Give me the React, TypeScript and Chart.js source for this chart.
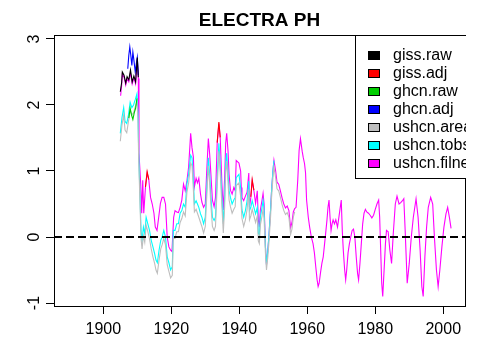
import React, { useEffect, useRef } from "react";
import { Chart, registerables } from "chart.js";

Chart.register(...registerables);

const TITLE = "ELECTRA PH";
const FONT = '"Liberation Sans", Arial, sans-serif';

const xTicks = [1900, 1920, 1940, 1960, 1980, 2000];
const yTicks = [-1, 0, 1, 2, 3];
const xMin = 1885.5;
const xMax = 2006.4;
const yMin = -1.045;
const yMax = 3.06;
const refLine = 0;

const seriesNames = ["giss.raw", "giss.adj", "ghcn.raw", "ghcn.adj", "ushcn.areal", "ushcn.tobs", "ushcn.filnet"];
const seriesColors = ["#000000", "#FF0000", "#00CD00", "#0000FF", "#BEBEBE", "#00FFFF", "#FF00FF"];

// giss.raw
const gissRawYears = [1905.0, 1905.4, 1905.6, 1906.1, 1906.6, 1907.0, 1907.5, 1908.0, 1908.5, 1909.0, 1909.5, 1910.0, 1910.3];
const gissRawValues = [2.20, 2.34, 2.50, 2.45, 2.33, 2.43, 2.38, 2.53, 2.35, 2.44, 2.35, 2.72, 2.42];

// giss.adj
const gissAdjYears = [1912.4, 1912.9, 1913.4, 1920.0, 1933.5, 1934.0, 1934.4, 1940.0, 1943.4, 1943.8, 1944.3];
const gissAdjValues = [0.76, 0.99, 0.87, null, 1.43, 1.74, 1.51, null, 0.61, 0.87, 0.71];

// ghcn.raw
const ghcnRawYears = [1907.5, 1907.9, 1908.3, 1908.7, 1909.1, 1909.5, 1909.9];
const ghcnRawValues = [1.80, 1.95, 1.85, 1.78, 1.88, 1.95, 2.10];

// ghcn.adj
const ghcnAdjYears = [1907.2, 1907.5, 1907.8, 1908.1, 1908.4, 1908.7, 1909.0, 1909.4, 1909.7, 1910.0, 1910.3];
const ghcnAdjValues = [2.55, 2.75, 2.88, 2.75, 2.60, 2.80, 2.68, 2.50, 2.62, 2.72, 2.45];

// ushcn.areal
const arealYears = [
  1905.0, 1905.5, 1906.0, 1906.4, 1906.9, 1907.4, 1907.9, 1908.4, 1908.9, 1909.4, 1909.9, 1910.2, 1910.4, 1910.8,
  1911.1, 1911.4, 1911.8, 1912.2, 1912.6, 1913.1, 1913.6, 1914.1, 1914.6, 1915.1, 1915.5, 1915.9, 1916.4, 1916.9,
  1917.3, 1917.8, 1918.3, 1918.8, 1919.3, 1919.8, 1920.3, 1920.6, 1921.1, 1921.6, 1922.1, 1922.6, 1923.1, 1923.6,
  1924.1, 1924.6, 1925.1, 1925.7, 1926.1, 1926.5, 1926.8, 1927.3, 1927.7, 1928.1, 1928.6, 1929.0, 1929.5, 1930.0,
  1930.4, 1930.9, 1931.3, 1931.6, 1932.1, 1932.6, 1933.0, 1933.5, 1934.0, 1934.4, 1934.9, 1935.3, 1935.7, 1936.0,
  1936.3, 1936.7, 1937.0, 1937.4, 1937.9, 1938.4, 1938.8, 1939.1, 1939.9, 1940.4, 1940.8, 1941.3, 1941.8, 1942.3,
  1942.8, 1943.0, 1943.4, 1943.8, 1944.3, 1944.8, 1945.3, 1945.6, 1945.9, 1946.2, 1946.7, 1947.0, 1947.3, 1947.7,
  1948.0, 1948.4, 1948.7, 1949.2, 1949.5, 1949.9, 1950.2, 1950.7, 1951.1, 1951.6, 1952.1, 1952.6, 1953.1, 1953.6,
  1954.1, 1954.6, 1955.1, 1955.5, 1955.9, 1956.3
];
const arealValues = [
  1.45, 1.70, 1.85, 1.62, 1.58, 1.75, 1.92, 1.85, 1.88, 1.97, 2.05, 1.80, 1.20, 0.50,
  -0.02, -0.18, 0.02, -0.08, 0.18, 0.08, -0.03, -0.18, -0.30, -0.40, -0.50, -0.55, -0.35, -0.18,
  -0.12, -0.02, -0.12, -0.42, -0.52, -0.62, -0.58, -0.02, -0.02, 0.08, 0.08, 0.22, 0.28, 0.38,
  0.32, 0.68, 0.82, 1.12, 1.08, 0.72, 0.38, 0.42, 0.36, 0.30, 0.22, 0.16, 0.06, 0.16,
  0.58, 1.08, 0.82, 0.52, 0.16, 0.10, 0.16, 0.76, 1.30, 0.98, 0.46, 0.06, 0.46, 0.98,
  1.15, 0.82, 0.56, 0.46, 0.36, 0.42, 0.46, 0.78, 0.82, 0.62, 0.28, 0.16, 0.26, 0.42,
  0.72, 0.26, 0.32, 0.42, 0.32, 0.22, 0.32, -0.06, -0.10, 0.18, 0.32, 0.42, 0.28, -0.25,
  -0.50, -0.30, -0.10, 0.30, 0.60, 0.90, 1.06, 0.90, 0.73, 0.70, 0.60, 0.49, 0.40, 0.34,
  0.37, 0.30, 0.04, 0.12, 0.30, 0.38
];

// ushcn.tobs
const tobsYears = [
  1905.0, 1905.5, 1906.0, 1906.4, 1906.9, 1907.4, 1907.9, 1908.4, 1908.9, 1909.4, 1909.9, 1910.2, 1910.4, 1910.8,
  1911.1, 1911.4, 1911.8, 1912.2, 1912.6, 1913.1, 1913.6, 1914.1, 1914.6, 1915.1, 1915.5, 1915.9, 1916.4, 1916.9,
  1917.3, 1917.8, 1918.3, 1918.8, 1919.3, 1919.8, 1920.3, 1920.6, 1921.1, 1921.6, 1922.1, 1922.6, 1923.1, 1923.6,
  1924.1, 1924.6, 1925.1, 1925.7, 1926.1, 1926.5, 1926.8, 1927.3, 1927.7, 1928.1, 1928.6, 1929.0, 1929.5, 1930.0,
  1930.4, 1930.9, 1931.3, 1931.6, 1932.1, 1932.6, 1933.0, 1933.5, 1934.0, 1934.4, 1934.9, 1935.3, 1935.7, 1936.0,
  1936.3, 1936.7, 1937.0, 1937.4, 1937.9, 1938.4, 1938.8, 1939.1, 1939.9, 1940.4, 1940.8, 1941.3, 1941.8, 1942.3,
  1942.8, 1943.0, 1943.4, 1943.8, 1944.3, 1944.8, 1945.3, 1945.6, 1945.9, 1946.2, 1946.7, 1947.0, 1947.3, 1947.7,
  1948.0, 1948.4, 1948.7, 1949.2, 1949.5, 1949.9, 1950.2
];
const tobsValues = [
  1.57, 1.81, 1.96, 1.75, 1.72, 1.85, 2.04, 1.96, 2.00, 2.08, 2.17, 1.90, 1.31, 0.60,
  0.10, -0.05, 0.15, 0.05, 0.30, 0.20, 0.10, -0.05, -0.15, -0.25, -0.35, -0.39, -0.20, -0.05,
  0.00, 0.10, 0.00, -0.30, -0.39, -0.50, -0.45, 0.10, 0.10, 0.20, 0.20, 0.36, 0.40, 0.50,
  0.45, 0.81, 0.95, 1.24, 1.20, 0.85, 0.50, 0.55, 0.50, 0.45, 0.35, 0.30, 0.20, 0.30,
  0.71, 1.20, 0.95, 0.65, 0.30, 0.25, 0.30, 0.89, 1.42, 1.10, 0.60, 0.20, 0.60, 1.10,
  1.27, 0.95, 0.70, 0.60, 0.50, 0.56, 0.60, 0.90, 0.95, 0.75, 0.41, 0.30, 0.40, 0.55,
  0.85, 0.40, 0.45, 0.55, 0.45, 0.35, 0.45, 0.06, 0.03, 0.30, 0.45, 0.55, 0.40, -0.15,
  -0.42, -0.20, 0.00, 0.41, 0.70, 1.00, 1.16
];

// ushcn.filnet
const filnetYears = [
  1905.1, 1905.4, 1905.6, 1906.1, 1906.6, 1907.0, 1907.5, 1908.0, 1908.5, 1909.0, 1909.5, 1910.0, 1910.3, 1910.5,
  1911.0, 1911.3, 1911.6, 1911.9, 1912.4, 1912.9, 1913.4, 1913.9, 1914.4, 1914.9, 1915.3, 1915.8, 1916.3, 1916.8,
  1917.3, 1917.8, 1918.3, 1918.8, 1919.3, 1919.8, 1920.2, 1920.7, 1921.1, 1921.6, 1922.1, 1922.6, 1923.1, 1923.6,
  1924.1, 1924.6, 1925.1, 1925.7, 1926.1, 1926.5, 1926.8, 1927.3, 1927.7, 1928.1, 1928.6, 1929.0, 1929.5, 1930.0,
  1930.4, 1930.9, 1931.3, 1931.6, 1932.1, 1932.6, 1933.0, 1933.5, 1934.0, 1934.4, 1934.9, 1935.3, 1935.7, 1936.0,
  1936.3, 1936.7, 1937.0, 1937.4, 1937.9, 1938.4, 1938.8, 1939.1, 1939.9, 1940.4, 1940.6, 1940.8, 1941.3, 1941.8,
  1942.3, 1942.8, 1943.0, 1943.4, 1943.8, 1944.3, 1944.8, 1945.3, 1945.6, 1945.9, 1946.2, 1946.7, 1947.0, 1947.3,
  1947.7, 1948.0, 1948.4, 1948.7, 1949.2, 1949.5, 1949.9, 1950.2, 1950.7, 1951.1, 1951.6, 1952.1, 1952.6, 1953.1,
  1953.6, 1954.1, 1954.6, 1955.1, 1955.5, 1955.9, 1956.3, 1956.7, 1957.2, 1957.6, 1958.0, 1958.5, 1958.8, 1959.2,
  1959.5, 1959.8, 1960.3, 1960.7, 1961.2, 1961.7, 1962.1, 1962.5, 1962.9, 1963.2, 1963.5, 1963.9, 1964.3, 1964.7,
  1965.1, 1965.5, 1965.8, 1966.1, 1966.4, 1966.7, 1967.0, 1967.3, 1967.6, 1968.0, 1968.4, 1968.9, 1969.2, 1969.6,
  1970.0, 1970.3, 1970.6, 1971.0, 1971.3, 1971.6, 1972.0, 1972.4, 1972.8, 1973.2, 1973.6, 1974.0, 1974.4, 1974.8,
  1975.1, 1975.5, 1975.9, 1976.3, 1976.7, 1977.1, 1977.5, 1978.0, 1978.5, 1979.0, 1979.5, 1980.0, 1980.5, 1981.0,
  1981.3, 1981.6, 1981.9, 1982.2, 1982.6, 1983.0, 1983.3, 1983.8, 1984.3, 1984.8, 1985.3, 1985.9, 1986.4, 1987.0,
  1987.5, 1988.0, 1988.4, 1988.8, 1989.4, 1990.0, 1990.6, 1991.2, 1992.0, 1992.6, 1993.2, 1993.7, 1994.1, 1994.6,
  1995.1, 1995.6, 1996.3, 1996.9, 1997.4, 1998.0, 1998.5, 1999.0, 1999.6, 2000.2, 2000.8, 2001.3, 2001.8, 2002.3
];
const filnetValues = [
  2.14, 2.30, 2.47, 2.42, 2.30, 2.40, 2.35, 2.49, 2.32, 2.41, 2.32, 2.70, 2.40, 1.27,
  0.81, 0.36, 0.86, 0.36, 0.75, 0.97, 0.86, 0.60, 0.50, 0.36, 0.15, 0.10, 0.30, 0.51,
  0.60, 0.60, 0.50, 0.00, -0.15, -0.20, -0.22, 0.30, 0.40, 0.38, 0.37, 0.45, 0.56, 0.80,
  0.70, 0.85, 1.06, 1.57, 1.35, 1.21, 0.76, 0.89, 0.82, 0.89, 0.65, 0.53, 0.45, 0.50,
  0.97, 1.49, 1.25, 1.00, 0.56, 0.46, 0.60, 1.42, 1.72, 1.50, 0.80, 0.41, 0.90, 1.42,
  1.57, 1.30, 0.95, 0.71, 0.65, 0.75, 0.70, 1.16, 1.12, 1.00, 0.75, 0.60, 0.55, 0.62,
  0.68, 0.97, 0.45, 0.60, 0.85, 0.70, 0.51, 0.70, 0.26, 0.15, 0.41, 0.56, 0.66, 0.50,
  -0.15, -0.42, -0.20, 0.00, 0.41, 0.70, 1.00, 1.16, 1.00, 0.83, 0.80, 0.70, 0.59, 0.50,
  0.44, 0.47, 0.40, 0.14, 0.22, 0.38, 0.43, 0.45, 0.86, 1.31, 1.49, 1.30, 1.21, 1.11,
  0.97, 0.56, 0.30, 0.15, 0.00, -0.10, -0.24, -0.45, -0.65, -0.75, -0.70, -0.54, -0.40, -0.30,
  -0.10, 0.10, 0.26, 0.45, 0.56, 0.30, 0.10, 0.20, 0.26, 0.20, 0.26, 0.15, 0.26, 0.41,
  0.56, 0.10, -0.20, -0.50, -0.65, -0.50, -0.24, -0.10, 0.00, 0.10, 0.12, 0.00, -0.30, -0.55,
  -0.65, -0.40, -0.10, 0.20, 0.36, 0.42, 0.38, 0.36, 0.33, 0.29, 0.33, 0.42, 0.50, 0.56,
  0.30, -0.20, -0.70, -0.90, -0.50, -0.10, 0.10, 0.08, -0.20, -0.40, 0.05, 0.50, 0.62, 0.50,
  0.52, 0.55, 0.58, 0.10, -0.70, -0.40, 0.00, 0.30, 0.58, 0.30, -0.20, -0.75, -0.90, -0.30,
  0.15, 0.45, 0.60, 0.50, 0.00, -0.50, -0.75, -0.50, -0.15, 0.15, 0.35, 0.45, 0.30, 0.13
];

const seriesYears = [gissRawYears, gissAdjYears, ghcnRawYears, ghcnAdjYears, arealYears, tobsYears, filnetYears];
const seriesValues = [gissRawValues, gissAdjValues, ghcnRawValues, ghcnAdjValues, arealValues, tobsValues, filnetValues];

const frame = {
  id: "rframe",
  afterDatasetsDraw(chart: any) {
    const { ctx, chartArea: a, scales } = chart;
    ctx.save();
    // dashed reference line
    const y0 = scales.y.getPixelForValue(refLine);
    ctx.beginPath();
    ctx.setLineDash([8, 4]);
    ctx.lineWidth = 2;
    ctx.strokeStyle = "#000";
    ctx.moveTo(a.left, Math.round(y0));
    ctx.lineTo(a.right, Math.round(y0));
    ctx.stroke();
    ctx.setLineDash([]);
    // box
    ctx.lineWidth = 1;
    ctx.strokeRect(Math.floor(a.left) + 0.5, Math.floor(a.top) + 0.5, Math.round(a.right - a.left), Math.round(a.bottom - a.top));
    // title
    ctx.fillStyle = "#000";
    ctx.font = `bold 19px ${FONT}`;
    ctx.textAlign = "center";
    ctx.textBaseline = "alphabetic";
    ctx.fillText(TITLE, (a.left + a.right) / 2, 26);
    // legend (inside plot, clipped to plot region)
    ctx.beginPath();
    ctx.rect(a.left, a.top, a.right - a.left + 1, a.bottom - a.top + 1);
    ctx.clip();
    const lx = a.right - 110;
    const top = a.top;
    const rowH = 18;
    const n = chart.data.datasets.length;
    const boxH = 20 + rowH * (n - 1) + 14 + 1;
    ctx.fillStyle = "#fff";
    ctx.fillRect(lx, top, 200, boxH);
    ctx.strokeStyle = "#000";
    ctx.strokeRect(lx + 0.5, top + 0.5, 200, boxH);
    ctx.font = `16px ${FONT}`;
    ctx.textAlign = "left";
    ctx.textBaseline = "middle";
    chart.data.datasets.forEach((ds: any, i: number) => {
      const cy = top + 20 + i * rowH;
      ctx.fillStyle = ds.borderColor;
      ctx.fillRect(lx + 13, cy - 4, 12, 9);
      ctx.strokeStyle = "#000";
      ctx.strokeRect(lx + 13.5, cy - 3.5, 11, 8);
      ctx.fillStyle = "#000";
      ctx.fillText(ds.label, lx + 38, cy + 1);
    });
    ctx.restore();
  },
};

export default function App() {
  const ref = useRef<HTMLCanvasElement>(null);
  useEffect(() => {
    document.body.style.margin = "0";
    const datasets = seriesNames.map((name, k) => ({
      label: name,
      data: seriesYears[k].map((x, i) => ({ x, y: seriesValues[k][i] })),
      borderColor: seriesColors[k],
      backgroundColor: seriesColors[k],
      borderWidth: 1.1,
      pointRadius: 0,
      tension: 0,
      fill: false,
      spanGaps: false,
    }));
    const tickFont = { family: FONT, size: 16 };
    const chart = new Chart(ref.current as HTMLCanvasElement, {
      type: "line",
      data: { datasets },
      options: {
        animation: false,
        responsive: false,
        layout: { padding: { top: 35, right: 18, left: 0, bottom: 0 } },
        plugins: { legend: { display: false }, title: { display: false }, tooltip: { enabled: false } },
        scales: {
          x: {
            type: "linear",
            min: xMin,
            max: xMax,
            afterBuildTicks: (s: any) => { s.ticks = xTicks.map((v) => ({ value: v })); },
            afterFit: (s: any) => { s.height = 54; },
            border: { display: false },
            grid: { drawOnChartArea: false, drawTicks: true, tickLength: 8, color: "#000", lineWidth: 1 },
            ticks: { font: tickFont, color: "#000", padding: 6, maxRotation: 0, autoSkip: false, callback: (v: any) => String(v) },
          },
          y: {
            type: "linear",
            min: yMin,
            max: yMax,
            afterBuildTicks: (s: any) => { s.ticks = yTicks.map((v) => ({ value: v })); },
            afterFit: (s: any) => { s.width = 54; },
            border: { display: false },
            grid: { drawOnChartArea: false, drawTicks: true, tickLength: 8, color: "#000", lineWidth: 1 },
            ticks: { font: tickFont, color: "#000", padding: 4, minRotation: 90, maxRotation: 90, crossAlign: "center", autoSkip: false, callback: (v: any) => String(v) },
          },
        },
      },
      plugins: [frame],
    } as any);
    return () => chart.destroy();
  }, []);
  return (
    <div style={{ width: 483, height: 360 }}>
      <canvas ref={ref} width={483} height={360} style={{ display: "block" }} />
    </div>
  );
}
